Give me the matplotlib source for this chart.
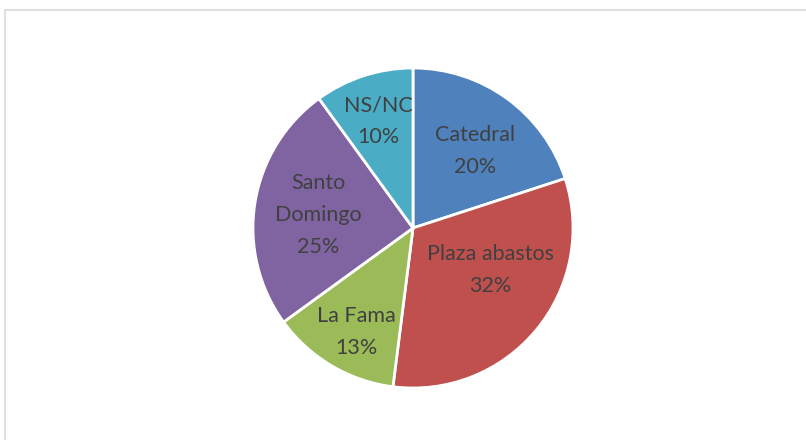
import matplotlib.pyplot as plt
import matplotlib.patches as patches
import numpy as np

labels = ['Catedral', 'Plaza abastos', 'La Fama', 'Santo\nDomingo', 'NS/NC']
values = [20, 32, 13, 25, 10]
colors = ['#4F81BD', '#C0504D', '#9BBB59', '#8064A2', '#4BACC6']

# label placement (fraction of radius, angular nudge in degrees)
label_r = [0.62, 0.55, 0.74, 0.60, 0.70]
label_shift = [-3, 11, 2, 1, 0]

plt.rcParams['font.family'] = ['Lato', 'DejaVu Sans']

fig = plt.figure(figsize=(8.06, 4.40), dpi=100)
W, H = 806, 440
cx, cy, r = 413, 228, 160

# chart frame
fig.patches.append(patches.Rectangle((5 / W, -0.1), 1.2, (H - 10) / H + 0.1,
                                     transform=fig.transFigure, fill=False,
                                     edgecolor='#D9D9D9', linewidth=1.2))

ax = fig.add_axes([(cx - r) / W, (H - cy - r) / H, 2 * r / W, 2 * r / H])
wedges, _ = ax.pie(values, colors=colors, startangle=90, counterclock=False,
                   radius=1, wedgeprops=dict(edgecolor='white', linewidth=2))
ax.set_xlim(-1, 1)
ax.set_ylim(-1, 1)
ax.set_aspect('equal')
ax.axis('off')

total = sum(values)
for w, lab, v, lr, sh in zip(wedges, labels, values, label_r, label_shift):
    ang = np.deg2rad((w.theta1 + w.theta2) / 2 + sh)
    ax.text(lr * np.cos(ang), lr * np.sin(ang), f'{lab}\n{round(100 * v / total)}%',
            ha='center', va='center', fontsize=15.5, color='#404040',
            linespacing=1.75)

fig.savefig('out.png', dpi=100)
